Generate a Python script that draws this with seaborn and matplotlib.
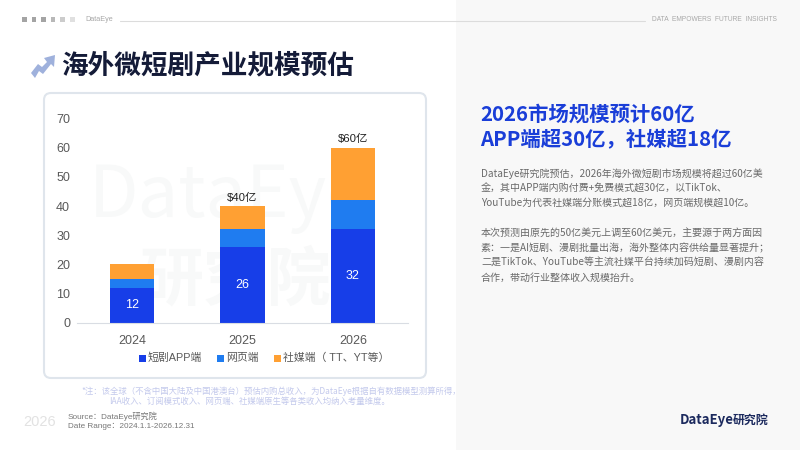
"""海外微短剧产业规模预估 slide, rebuilt with seaborn."""

import matplotlib.pyplot as plt
from matplotlib.patches import FancyBboxPatch, Polygon, Rectangle
import pandas as pd
import seaborn as sns

years = ["2024", "2025", "2026"]
app_values = [12, 26, 32]
web_values = [3, 6, 10]
social_values = [5, 8, 18]
series_names = ["短剧APP端", "网页端", "社媒端（ TT、YT等）"]
series_colors = ["#173ee8", "#1f7cf0", "#ffa033"]
total_labels = ["", "$40亿", "$60亿"]
yticks = [0, 10, 20, 30, 40, 50, 60, 70]

title = "海外微短剧产业规模预估"
headline = ["2026市场规模预计60亿", "APP端超30亿，社媒超18亿"]
body_lines = [
    "DataEye研究院预估，2026年海外微短剧市场规模将超过60亿美",
    "金，其中APP端内购付费+免费模式超30亿，以TikTok、",
    "YouTube为代表社媒端分账模式超18亿，网页端规模超10亿。",
    "",
    "本次预测由原先的50亿美元上调至60亿美元，主要源于两方面因",
    "素：一是AI短剧、漫剧批量出海，海外整体内容供给量显著提升；",
    "二是TikTok、YouTube等主流社媒平台持续加码短剧、漫剧内容",
    "合作，带动行业整体收入规模抬升。",
]
note_lines = [
    "*注：该全球（不含中国大陆及中国港澳台）预估内购总收入，为DataEye根据自有数据模型测算所得，",
    "IAA收入、订阅模式收入、网页端、社媒端原生等各类收入均纳入考量维度。",
]

FONTS = ["Liberation Sans", "Noto Sans CJK SC"]
CJK = ["Noto Sans CJK SC", "DejaVu Sans"]

sns.set_theme(style="white")
plt.rcParams["font.family"] = FONTS

df = pd.DataFrame({"year": years, "app": app_values, "web": web_values, "social": social_values})
df["web_bottom"] = df["app"]
df["social_bottom"] = df["app"] + df["web"]
df["total"] = df["social_bottom"] + df["social"]

fig = plt.figure(figsize=(8, 4.5), dpi=100, facecolor="white")

# overlay in pixel coordinates for all the slide furniture
bg = fig.add_axes([0, 0, 1, 1], zorder=0)
bg.set_xlim(0, 800)
bg.set_ylim(450, 0)
bg.axis("off")

bg.add_patch(Rectangle((456, 0), 344, 450, color="#f8f8f8", lw=0))

# header strip
for i, alpha in enumerate([0.9, 0.9, 0.9, 0.7, 0.5, 0.3]):
    bg.add_patch(Rectangle((22 + i * 9.6, 17), 4.5, 4.5, color="#9a9a9a", alpha=alpha, lw=0))
bg.text(85, 19.5, "DataEye", fontsize=5.2, color="#a8a8a8", va="center")
bg.plot([120, 645], [20.5, 20.5], color="#dcdcdc", lw=0.8)
bg.text(652, 19.5, "DATA  EMPOWERS  FUTURE  INSIGHTS", fontsize=4.8, color="#a8a8a8", va="center")

# title with arrow icon
bg.add_patch(Polygon(
    [(31, 73), (38, 64), (42, 67), (47, 62), (44, 58), (55, 55), (54, 67), (51, 64), (43, 74), (39, 71), (35, 78)],
    color="#9fb1dc", lw=0,
))
bg.text(61.5, 66, title, fontsize=19.2, fontweight="bold", color="#141b38", va="center", family=CJK)

# chart card
bg.add_patch(FancyBboxPatch((47, 96), 376, 279, boxstyle="round,pad=3,rounding_size=7",
                            fc="white", ec="#dfe5ec", lw=1.5))
bg.text(89, 197, "DataEye", fontsize=52, color="#f8f9f9", va="center", family=CJK)
bg.text(140, 281, "研究院", fontsize=46, fontweight="bold", color="#f8f9f9", va="center", family=CJK)

# right column
for i, line in enumerate(headline):
    bg.text(480, 114 + i * 24.5, line, fontsize=14.7, fontweight="bold", color="#1a3ed8", va="center", family=CJK)
for i, line in enumerate(body_lines):
    bg.text(481, 173.5 + i * 14.85, line, fontsize=7.2, color="#6a6a6a", va="center", family=CJK)

# footer
for x, y, line in zip([81, 109], [391, 401.5], note_lines):
    bg.text(x, y, line, fontsize=6.05, color="#c3c9ec", va="center", family=CJK)
bg.text(23, 421.5, "2026", fontsize=10.5, color="#e2e2e2", va="center")
bg.text(68, 416.7, "Source：DataEye研究院", fontsize=5.9, color="#777777", va="center")
bg.text(68, 426.7, "Date Range：2024.1.1-2026.12.31", fontsize=5.9, color="#777777", va="center")
bg.text(680, 420, "DataEye", fontsize=9.5, fontweight="bold", color="#1c2a5e", va="center", family=CJK)
bg.text(733, 420, "研究院", fontsize=8.6, fontweight="bold", color="#1c2a5e", va="center", family=CJK)

# axes: 70 at y=118.5, 0 at y=322.7, x from 77 to 408
ax = fig.add_axes([77 / 800, 1 - 322.7 / 450, 331 / 800, 204.2 / 450], zorder=2)
ax.patch.set_alpha(0)

bar_kws = dict(width=0.4, saturation=1, linewidth=0, ax=ax)
sns.barplot(data=df, x="year", y="app", color=series_colors[0], **bar_kws)
sns.barplot(data=df, x="year", y="web", bottom=df["web_bottom"], color=series_colors[1], **bar_kws)
sns.barplot(data=df, x="year", y="social", bottom=df["social_bottom"], color=series_colors[2], **bar_kws)

ax.set_xlim(-0.5, 2.5)
ax.set_ylim(0, 70)
ax.set_yticks(yticks)
ax.set_xlabel("")
ax.set_ylabel("")
ax.tick_params(axis="both", length=0, labelsize=9, labelcolor="#595959")
ax.tick_params(axis="x", pad=8.5)
ax.tick_params(axis="y", pad=5)
sns.despine(ax=ax, left=True)
ax.spines["bottom"].set_color("#d9dde3")
ax.spines["bottom"].set_linewidth(0.8)

for i, value in enumerate(app_values):
    ax.text(i, value / 2, str(value), ha="center", va="center", fontsize=9, color="white")
for i, label in enumerate(total_labels):
    if label:
        ax.text(i, df["total"][i] + 1.2, label.replace("$", r"\$"), ha="center", va="bottom", fontsize=8.2, color="#222222")

# legend
legend_x = [139, 217, 274]
for x, name, color in zip(legend_x, series_names, series_colors):
    bg.add_patch(Rectangle((x, 355), 6.5, 6.5, color=color, lw=0))
    bg.text(x + 9, 358, name, fontsize=7.8, color="#595959", va="center")

fig.savefig("out.png", dpi=100)
